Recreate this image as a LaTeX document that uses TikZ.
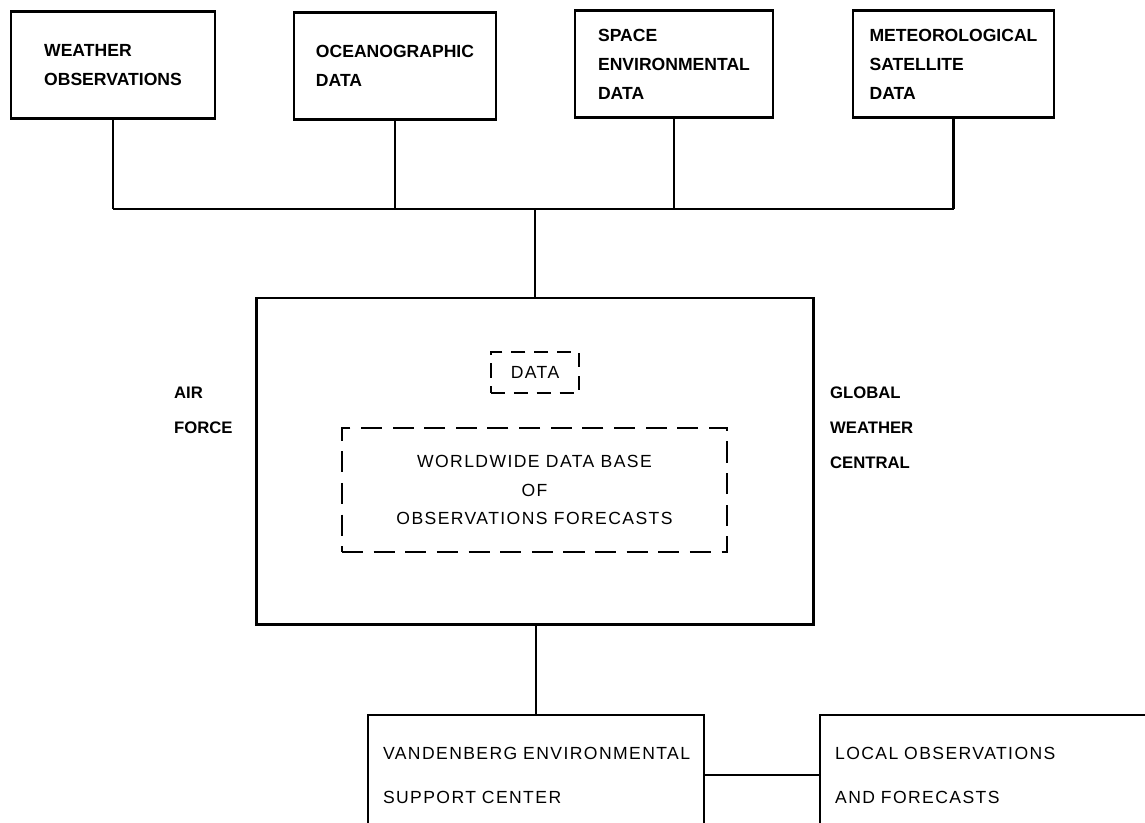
\documentclass[tikz,border=0pt]{standalone}
\usepackage{fontspec}
\setmainfont{Liberation Sans}
\newfontfamily\spaced[LetterSpace=8]{Liberation Sans}
\begin{document}
\begin{tikzpicture}
  [x=0.02cm,y=-0.02cm,line width=1.3pt,
   src/.style={draw,line width=1.5pt,minimum height=2.14cm,align=left,
     font=\bfseries\fontsize{10}{16.5}\selectfont},
   side/.style={anchor=west,inner sep=0pt,align=left,
     font=\bfseries\fontsize{9.5}{19.8}\selectfont},
   inset/.style={draw,line width=1.4pt,dash pattern=on 12pt off 6pt,align=center,
     font=\spaced\fontsize{10}{16.4}\selectfont},
   site/.style={draw,minimum height=2.4cm,inner xsep=0.3cm,align=left,
     font=\spaced\fontsize{10}{25}\selectfont}]
  \clip (0,0) rectangle (1145,822);

  % sources along the top
  \node (obs)[src,minimum width=4.08cm] at (113,65) {WEATHER\\OBSERVATIONS};
  \node (ocn)[src,minimum width=4.04cm] at (395,66) {OCEANOGRAPHIC\\DATA};
  \node (spc)[src,minimum width=3.96cm] at (674,64) {SPACE\\ENVIRONMENTAL\\DATA};
  \node (sat)[src,minimum width=4.02cm] at (953.5,64) {METEOROLOGICAL\\SATELLITE\\DATA};
  \coordinate (bus) at (535,209);

  % central
  \node (gwc)[draw,line width=1.5pt,minimum width=11.14cm,minimum height=6.53cm] at (535,461.25) {};
  \node (data)[inset,dash pattern=on 8pt off 5pt,minimum width=1.76cm,minimum height=0.82cm] at (535,372.5) {DATA};
  \node (base)[inset,minimum width=7.7cm,minimum height=2.48cm] at (534.5,490)
    {WORLDWIDE DATA BASE\\OF\\OBSERVATIONS FORECASTS};
  \node (af)[side] at (173,410.5) {AIR\\FORCE};
  \node (gw)[side] at (829,427.5) {GLOBAL\\WEATHER\\CENTRAL};

  % users
  \node (vsc)[site,text width=6.12cm] at (536,775) {VANDENBERG ENVIRONMENTAL\\SUPPORT CENTER};
  \node (loc)[site,text width=8cm,anchor=west] at (819,775) {LOCAL OBSERVATIONS\\AND FORECASTS};

  \foreach \n in {obs,ocn,spc,sat}
    \draw (\n.south) -- (\n.south |- bus);
  \draw (obs.south |- bus) -- (sat.south |- bus);
  \draw (bus) -- (bus |- gwc.north);
  \draw (vsc.north |- gwc.south) -- (vsc.north);
  \draw (vsc.east) -- (loc.west);

\end{tikzpicture}
\end{document}
